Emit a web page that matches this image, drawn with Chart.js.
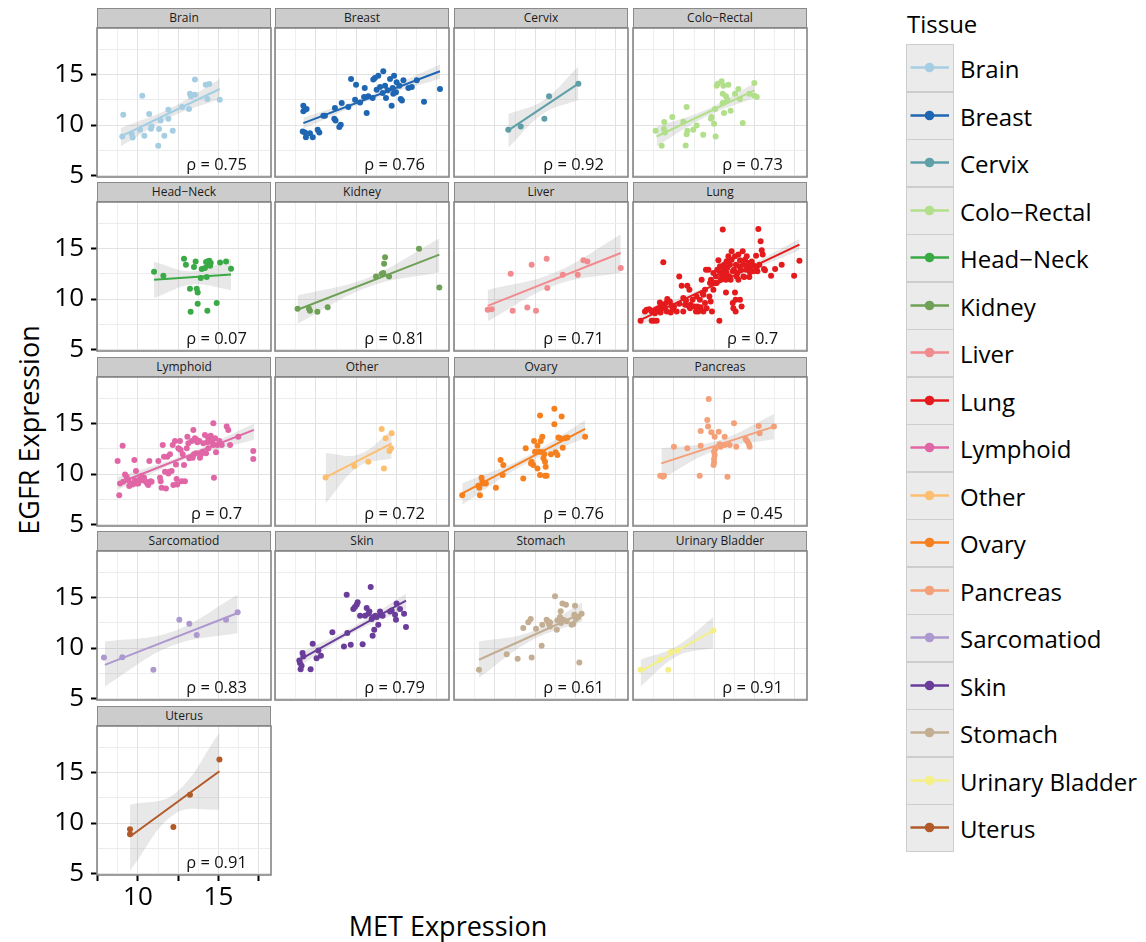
<!DOCTYPE html>
<html>
<head>
<meta charset="utf-8">
<title>EGFR vs MET expression by tissue</title>
<script src="https://cdn.jsdelivr.net/npm/chart.js@4.4.1/dist/chart.umd.min.js"></script>
<style>
  body { margin: 0; background: #fff; }
  #figure { position: relative; width: 1146px; height: 942px; overflow: hidden; font-family: "Open Sans", sans-serif; color: #000; }
  #figure canvas { position: absolute; }
  .strip { position: absolute; box-sizing: border-box; height: 20px; background: #cccccc; border: 1.5px solid #8a8a8a; font-size: 12px; line-height: 17px; text-align: center; color: #1a1a1a; white-space: nowrap; }
  .axis-title { position: absolute; font-size: 27px; white-space: nowrap; transform: translate(-50%, -50%); }
  .axis-title.vertical { transform: translate(-50%, -50%) rotate(-90deg); }
  .legend-title { position: absolute; left: 907px; top: 7px; font-size: 24px; }
  .key { position: absolute; left: 906px; width: 48px; height: 48px; box-sizing: border-box; background: #ebebeb; border: 1.5px solid #cdcdcd; }
  .key svg { position: absolute; left: 0; top: 0; }
  .key-label { position: absolute; left: 960px; font-size: 24px; line-height: 48px; white-space: nowrap; }
</style>
</head>
<body>
<div id="figure">
  <div class="axis-title vertical" style="left:28px; top:430px;">EGFR Expression</div>
  <div class="axis-title" style="left:448px; top:925px;">MET Expression</div>
  <div class="legend-title">Tissue</div>
</div>
<script>
const tissues = ['Brain', 'Breast', 'Cervix', 'Colo−Rectal', 'Head−Neck', 'Kidney', 'Liver', 'Lung', 'Lymphoid',
  'Other', 'Ovary', 'Pancreas', 'Sarcomatiod', 'Skin', 'Stomach', 'Urinary Bladder', 'Uterus'];
const tissueColors = ['#a6cee3', '#1f66b2', '#5e9fa8', '#b2df8a', '#3aaa47', '#6ea055', '#f28b8f', '#e41a1c', '#e066a6',
  '#fdbf6f', '#f7801e', '#f4a078', '#ad99cf', '#6a3d9a', '#c4ae93', '#f4ef86', '#b15928'];
const rhoValues = ['0.75', '0.76', '0.92', '0.73', '0.07', '0.81', '0.71', '0.7', '0.7', '0.72', '0.76', '0.45', '0.83', '0.79', '0.61', '0.91', '0.91'];

// [MET, EGFR] per cell line
const brainPts = [[9.09,11.02],[10.27,12.92],[9.03,8.87],[9.61,9.13],[9.67,8.77],[10.13,9.53],[10.4,8.94],[10.7,11.09],[10.85,9.86],[10.81,9.63],[11.26,7.94],[11.31,9.6],[11.41,10.46],[11.64,8.94],[11.89,11.52],[11.89,10.63],[12.16,9.43],[12.75,11.79],[13.17,11.59],[13.23,13.11],[13.29,12.85],[13.54,13.01],[13.54,14.51],[14.21,14.01],[14.43,14.08],[14.31,12.59],[15.08,12.52]];
const breastPts = [[9.22,11.92],[9.32,11.52],[9.42,11.59],[9.22,11.36],[9.18,9.37],[9.32,9.27],[9.38,8.8],[9.63,9.2],[9.8,8.8],[10.11,9.53],[10.21,9.27],[10.46,10.93],[10.56,10.93],[11.18,11.69],[11.14,10.63],[11.22,10.46],[11.45,9.8],[11.54,10.03],[11.6,12.19],[12.01,11.79],[12.18,14.57],[12.49,14.01],[12.43,12.52],[12.74,12.25],[12.99,12.78],[13.03,13.68],[13.15,11.19],[13.25,12.85],[13.52,12.68],[13.56,14.51],[13.66,14.67],[13.77,13.51],[13.87,14.9],[13.98,13.78],[14.18,15.34],[14.14,13.18],[14.29,13.91],[14.35,12.68],[14.45,13.45],[14.6,14.57],[14.7,11.92],[14.76,13.68],[14.8,13.11],[14.85,14.9],[14.97,13.25],[15.01,14.24],[15.18,13.91],[15.26,12.58],[15.34,12.45],[15.43,14.44],[15.74,13.68],[15.95,13.78],[16.26,14.44],[16.71,12.32],[17.7,13.58]];
const cervixPts = [[10.83,9.53],[11.6,9.86],[13.07,10.63],[13.36,12.85],[15.18,14.11]];
const coloRectalPts = [[8.86,9.43],[9.38,9.6],[9.44,9.27],[9.24,7.94],[9.4,10.3],[9.9,10.79],[10.58,10.33],[10.79,11.79],[10.73,7.97],[10.79,9.1],[10.83,9.43],[11.2,9.53],[11.41,9.96],[11.82,9.03],[12.34,10.79],[12.3,10.63],[12.49,10.13],[12.59,8.87],[12.65,13.91],[12.72,14.11],[12.96,14.34],[13.07,13.91],[13.38,14.01],[13.03,13.11],[13.23,12.85],[13.31,12.52],[13.11,11.19],[13.52,11.42],[13.03,12.19],[13.79,13.11],[14.0,13.58],[14.1,12.58],[14.27,10.2],[14.68,13.11],[14.99,14.17],[14.99,12.91],[15.14,12.78],[12.55,11.59]];
const headNeckPts = [[11.0,12.72],[11.58,12.32],[12.86,14.01],[12.98,13.41],[13.48,13.18],[13.58,13.74],[13.96,12.98],[14.16,13.08],[14.23,13.68],[14.31,13.74],[14.37,13.41],[14.43,13.81],[14.48,13.31],[14.52,13.58],[15.1,13.64],[15.47,13.74],[15.78,13.01],[13.23,11.02],[13.65,11.02],[13.71,10.66],[13.9,12.09],[14.27,12.19],[13.71,9.53],[14.89,9.6],[13.27,8.74],[14.31,8.84]];
const kidneyPts = [[8.86,9.03],[9.57,9.03],[9.63,8.84],[10.09,8.74],[10.73,9.2],[13.73,12.25],[14.08,12.48],[14.18,12.58],[14.23,13.51],[14.29,14.14],[14.54,12.25],[16.4,15.0],[17.66,11.16]];
const liverPts = [[9.55,8.94],[9.8,9.0],[10.98,12.52],[11.1,8.84],[12.01,9.17],[12.28,13.41],[12.55,8.84],[13.21,14.01],[13.25,11.09],[14.21,12.42],[15.14,12.42],[15.49,13.84],[15.74,13.74],[17.81,13.08]];
const lungPts = [[7.93,7.84],[8.62,7.84],[8.76,7.84],[8.93,7.84],[8.2,8.77],[8.31,8.94],[8.47,9.0],[8.62,8.77],[8.76,8.87],[8.89,9.0],[9.03,9.1],[9.17,9.27],[9.34,9.43],[9.44,9.1],[9.51,9.6],[9.59,10.0],[9.75,9.76],[9.86,9.33],[9.92,9.0],[10.0,9.27],[9.34,13.65],[10.33,12.25],[10.48,11.32],[10.58,8.77],[10.69,9.43],[10.75,9.86],[10.83,11.32],[10.96,10.93],[11.0,9.1],[11.04,9.43],[11.16,9.93],[11.27,9.27],[11.37,8.77],[11.45,9.27],[11.51,8.77],[11.61,9.93],[11.66,9.2],[11.72,11.92],[11.78,10.59],[11.83,8.77],[11.93,9.6],[11.99,12.92],[12.03,9.1],[12.14,12.92],[12.2,10.26],[12.28,9.76],[12.3,11.92],[12.36,8.77],[12.45,10.93],[12.55,11.59],[12.61,12.25],[12.65,11.59],[12.69,12.92],[12.76,13.85],[12.82,7.84],[12.86,12.65],[12.9,11.92],[12.96,12.42],[13.03,16.9],[13.07,12.92],[13.11,13.41],[13.17,12.25],[13.23,10.66],[13.27,12.58],[13.31,13.08],[13.38,14.24],[13.44,12.25],[13.48,13.41],[13.52,11.92],[13.58,14.74],[13.65,12.75],[13.69,9.1],[13.73,12.92],[13.79,14.24],[13.83,8.77],[13.85,13.41],[13.89,12.25],[13.93,12.58],[14.0,14.41],[14.06,13.25],[14.1,13.85],[14.14,12.92],[14.2,9.27],[14.27,14.74],[14.31,13.41],[14.37,12.19],[14.41,13.91],[14.48,12.92],[14.52,14.24],[14.58,13.18],[14.64,13.58],[14.68,12.19],[14.72,12.65],[14.83,13.74],[14.97,13.31],[15.1,14.31],[15.14,13.18],[15.18,12.75],[15.24,16.96],[15.3,13.41],[15.38,15.73],[15.45,14.84],[15.51,14.41],[15.59,12.98],[15.65,12.85],[16.03,12.32],[16.28,12.98],[16.69,13.41],[17.46,12.32],[17.79,13.81],[13.83,9.93],[13.65,9.6],[14.1,9.93],[11.83,10.43],[11.41,10.26],[10.58,10.1],[10.33,9.53],[10.17,8.77],[9.8,8.67],[9.55,8.77],[9.17,8.67],[8.97,8.87],[8.82,8.6],[9.13,9.66],[10.89,9.33],[13.79,10.66],[13.23,11.92],[12.86,13.25],[12.45,12.58],[12.24,11.59],[11.93,10.93],[13.27,13.75],[13.58,13.91],[14.0,11.92],[14.31,12.25],[14.72,13.18],[14.93,12.75]];
const lymphoidPts = [[8.74,11.29],[8.84,7.91],[8.89,9.07],[9.05,12.82],[9.09,9.24],[9.2,9.97],[9.3,9.73],[9.4,9.4],[9.46,8.81],[9.55,9.07],[9.67,8.97],[9.78,11.39],[9.82,9.4],[9.88,10.3],[9.92,9.07],[10.02,9.07],[10.13,9.5],[10.23,9.83],[10.29,9.4],[10.38,9.64],[10.5,9.24],[10.58,9.07],[10.64,8.91],[10.71,11.29],[10.79,9.3],[10.85,9.24],[11.27,11.29],[11.37,9.64],[11.41,9.3],[11.47,8.64],[11.54,12.89],[11.62,11.72],[11.68,10.23],[11.74,8.57],[11.83,11.72],[11.89,10.07],[11.95,10.23],[11.99,11.96],[12.09,10.3],[12.16,12.89],[12.2,8.91],[12.3,13.28],[12.36,10.96],[12.4,9.5],[12.44,8.97],[12.51,12.55],[12.57,12.49],[12.61,13.28],[12.65,12.39],[12.72,9.3],[12.78,11.96],[12.86,10.9],[12.92,9.3],[13.03,12.55],[13.07,13.71],[13.13,13.05],[13.19,11.56],[13.34,13.28],[13.4,11.63],[13.44,14.38],[13.48,11.96],[13.54,13.55],[13.61,12.06],[13.65,13.38],[13.69,13.15],[13.81,13.28],[13.85,11.63],[13.92,11.96],[14.02,12.22],[14.16,13.88],[14.23,12.06],[14.31,13.15],[14.37,13.55],[14.43,13.71],[14.52,13.81],[14.58,13.28],[14.64,13.05],[14.68,15.04],[14.72,9.64],[14.79,13.55],[14.85,12.16],[14.93,12.89],[15.06,13.28],[15.2,12.89],[15.51,14.71],[15.61,14.38],[15.72,12.89],[16.23,13.71],[17.16,12.29],[17.16,11.49],[14.68,12.89],[14.37,12.55],[14.06,13.05]];
const otherPts = [[10.6,9.67],[12.38,10.8],[13.25,11.23],[14.08,14.48],[14.33,13.55],[14.22,10.56],[14.7,14.05],[14.56,12.29],[14.66,12.55]];
const ovaryPts = [[7.97,7.91],[8.97,8.84],[9.03,8.64],[9.07,7.91],[9.17,9.64],[9.22,9.24],[9.28,9.07],[9.44,9.07],[10.06,8.64],[10.35,11.39],[10.52,10.9],[10.48,9.9],[11.76,9.57],[11.91,12.55],[12.24,11.06],[12.38,10.9],[12.43,13.28],[12.49,12.22],[12.64,12.82],[12.64,10.56],[12.76,12.22],[12.8,15.8],[12.8,9.9],[12.84,13.28],[12.94,13.71],[13.01,11.56],[13.07,11.96],[13.11,11.23],[13.15,10.73],[13.11,9.83],[13.21,9.83],[13.48,11.96],[13.69,16.47],[13.69,14.94],[13.77,12.16],[13.88,11.89],[13.94,13.62],[14.04,13.55],[14.14,15.7],[14.21,12.62],[14.35,13.55],[14.5,13.62],[15.6,13.71],[12.28,11.23],[12.96,12.16]];
const pancreasPts = [[9.15,9.83],[9.32,9.73],[9.38,9.83],[10.0,12.72],[10.83,12.55],[11.6,9.83],[11.66,12.82],[12.07,15.37],[12.12,14.71],[12.16,17.46],[11.66,14.28],[12.32,14.15],[12.53,13.71],[12.49,12.22],[12.53,11.89],[12.49,11.49],[12.49,11.16],[12.46,10.9],[12.78,14.21],[12.84,12.95],[12.9,12.72],[13.15,13.71],[13.15,12.89],[13.32,9.73],[13.46,12.89],[13.73,15.04],[13.87,12.72],[14.45,13.48],[14.56,13.22],[14.66,12.95],[14.7,12.72],[15.26,14.78],[15.32,14.05],[16.21,14.71],[12.57,12.49]];
const sarcomatiodPts = [[7.89,9.07],[9.03,9.1],[10.96,7.84],[12.57,12.82],[13.19,12.42],[13.65,11.29],[15.47,12.82],[16.19,13.55]];
const skinPts = [[8.97,8.77],[9.01,8.51],[9.05,7.91],[9.11,8.24],[9.17,9.5],[9.22,9.17],[9.67,7.91],[9.8,10.43],[10.04,9.0],[10.15,9.76],[10.31,9.23],[11.02,11.56],[11.74,10.16],[11.91,15.3],[11.95,11.49],[12.16,10.33],[12.32,13.88],[12.42,14.08],[12.53,14.31],[12.59,14.54],[12.9,10.39],[13.05,13.21],[13.15,13.98],[13.26,13.41],[13.32,13.64],[13.4,16.07],[13.46,12.88],[13.52,11.22],[13.56,13.08],[13.62,11.82],[13.69,13.21],[13.77,13.08],[13.87,12.32],[13.98,13.64],[14.02,13.31],[14.14,13.21],[14.6,13.64],[14.7,13.74],[14.91,13.31],[14.97,12.82],[15.01,14.41],[15.47,13.41],[15.59,12.08],[15.22,13.88],[12.74,13.21]];
const stomachPts = [[9.01,7.84],[10.73,9.4],[11.41,8.94],[12.28,9.07],[12.9,10.23],[11.76,11.99],[12.07,12.55],[12.22,12.88],[12.55,11.92],[12.94,12.32],[13.21,12.82],[13.28,12.65],[13.36,12.42],[13.42,12.15],[13.73,15.14],[13.84,11.82],[13.88,12.75],[14.04,13.08],[14.08,13.65],[14.1,12.48],[14.19,14.41],[14.25,12.82],[14.41,14.31],[14.45,12.65],[14.76,12.32],[14.87,12.38],[14.93,13.31],[14.97,14.21],[15.03,12.88],[15.18,13.08],[15.24,8.57],[15.38,13.41],[13.42,12.55]];
const bladderPts = [[7.93,7.84],[9.13,8.84],[9.65,7.84],[9.82,9.6],[10.21,9.76],[12.45,11.75]];
const uterusPts = [[9.51,9.4],[9.51,8.9],[12.2,9.6],[13.23,12.82],[15.06,16.3]];

const points = [brainPts, breastPts, cervixPts, coloRectalPts, headNeckPts, kidneyPts, liverPts, lungPts, lymphoidPts,
  otherPts, ovaryPts, pancreasPts, sarcomatiodPts, skinPts, stomachPts, bladderPts, uterusPts];

// linear fit end points and confidence band (start, middle, end)
const fitFrom = [[8.93,8.87],[9.22,10.2],[10.83,9.47],[8.92,8.87],[11.0,11.92],[8.86,8.94],[9.55,9.33],[7.93,7.94],[8.74,9.07],
  [10.6,9.67],[7.97,8.08],[9.22,11.06],[7.95,8.34],[8.97,8.84],[9.01,8.84],[7.93,7.68],[9.51,8.67]];
const fitTo = [[15.08,13.58],[17.7,15.34],[15.18,14.11],[14.99,13.45],[15.78,12.45],[17.66,14.41],[17.81,14.57],[17.79,15.4],[17.2,14.38],
  [14.7,13.05],[15.6,14.48],[16.21,14.71],[16.19,13.48],[15.59,14.71],[15.43,13.48],[12.45,11.75],[15.06,15.14]];
const bandLow = [[7.87,10.77,12.58],[9.65,12.52,14.6],[7.75,11.15,12.5],[7.9,10.8,12.7],[10.1,11.45,10.9],[7.55,11.2,12.65],
  [7.8,11.35,12.6],[7.4,11.47,14.85],[8.45,11.5,13.4],[7.1,10.75,11.55],[6.95,10.9,13.6],[9.55,12.45,13.45],
  [6.2,10.2,11.5],[8.2,11.5,13.85],[7.05,10.7,12.65],[6.2,9.2,10.0],[5.3,10.9,11.35]];
const bandHigh = [[9.7,11.67,14.58],[10.75,13.02,16.0],[11.1,12.45,15.8],[9.85,11.5,14.15],[13.7,12.75,14.0],[10.35,12.15,16.0],
  [10.9,12.6,16.4],[8.5,11.87,15.95],[9.7,11.95,15.0],[12.1,11.95,14.3],[9.1,11.6,15.35],[12.55,13.3,15.95],
  [10.65,11.6,15.3],[9.5,12.1,15.4],[10.65,11.6,14.55],[8.85,10.2,13.1],[11.8,12.9,18.95]];

const xTicks = [7.5, 8.75, 10, 11.25, 12.5, 13.75, 15, 16.25, 17.5];
const yTicks = [5, 7.5, 10, 12.5, 15, 17.5];
const xLabels = [10, 15];
const yLabels = [5, 10, 15];

const FONT = '"Open Sans", sans-serif';
const colLeft = [97, 275, 454, 633];
const rowTop = [28, 202, 377, 551, 726];
const panelW = 174, panelH = 149;
// room around the plot area; top/bottom must exceed half a tick label so the
// layout doesn't push the plot area in
const padL = 80, padT = 28, padR = 6, padB = 50;
const rhoAt = [14.88, 6.0];

const fig = document.getElementById('figure');

// correlation text + grey frame around each facet
const panelFrame = {
  id: 'panelFrame',
  afterDatasetsDraw(chart, args, opts) {
    const { ctx, chartArea: a, scales } = chart;
    ctx.save();
    ctx.font = '16.5px ' + FONT;
    ctx.fillStyle = '#111';
    ctx.textAlign = 'center';
    ctx.textBaseline = 'middle';
    ctx.fillText('ρ = ' + opts.rho, scales.x.getPixelForValue(rhoAt[0]), scales.y.getPixelForValue(rhoAt[1]));
    ctx.strokeStyle = '#858585';
    ctx.lineWidth = 1.6;
    ctx.strokeRect(a.left, a.top, a.width, a.height);
    ctx.restore();
  }
};

tissues.forEach((name, i) => {
  const col = i % 4, row = Math.floor(i / 4);
  const leftAxis = col === 0;
  const bottomAxis = i === tissues.length - 1;
  const color = tissueColors[i];

  const strip = document.createElement('div');
  strip.className = 'strip';
  strip.style.left = colLeft[col] + 'px';
  strip.style.top = (rowTop[row] - 20) + 'px';
  strip.style.width = panelW + 'px';
  strip.textContent = name;
  fig.appendChild(strip);

  const canvas = document.createElement('canvas');
  canvas.width = padL + panelW + padR;
  canvas.height = padT + panelH + padB;
  canvas.style.left = (colLeft[col] - padL) + 'px';
  canvas.style.top = (rowTop[row] - padT) + 'px';
  fig.appendChild(canvas);

  const [x0, y0] = fitFrom[i];
  const [x1, y1] = fitTo[i];
  const bandX = [x0, (x0 + x1) / 2, x1];

  new Chart(canvas, {
    type: 'line',
    data: {
      datasets: [
        {
          data: bandX.map((x, k) => ({ x, y: bandLow[i][k] })),
          borderColor: 'transparent', borderWidth: 0, pointRadius: 0, fill: false, tension: 0.4, order: 3
        },
        {
          data: bandX.map((x, k) => ({ x, y: bandHigh[i][k] })),
          borderColor: 'transparent', borderWidth: 0, pointRadius: 0, tension: 0.4, order: 3,
          fill: '-1', backgroundColor: 'rgba(150,150,150,0.22)'
        },
        {
          data: points[i].map(p => ({ x: p[0], y: p[1] })),
          showLine: false, pointRadius: 3, pointBorderWidth: 0,
          pointBackgroundColor: color, pointBorderColor: color, order: 2
        },
        {
          data: [{ x: x0, y: y0 }, { x: x1, y: y1 }],
          borderColor: color, borderWidth: 2, pointRadius: 0, fill: false, order: 1
        }
      ]
    },
    options: {
      responsive: false,
      animation: false,
      events: [],
      layout: {
        autoPadding: false,
        padding: { left: leftAxis ? 0 : padL, top: padT, right: padR, bottom: bottomAxis ? 0 : padB }
      },
      plugins: {
        legend: { display: false },
        tooltip: { enabled: false },
        panelFrame: { rho: rhoValues[i] }
      },
      scales: {
        x: {
          type: 'linear', min: 7.46, max: 18.26,
          afterBuildTicks: s => { s.ticks = xTicks.map(v => ({ value: v })); },
          afterFit: s => { s.height = bottomAxis ? padB : 0; },
          border: { display: false },
          grid: {
            color: c => (c.tick && c.tick.value % 2.5 === 0) ? '#e2e2e2' : '#efefef',
            lineWidth: 1,
            drawTicks: bottomAxis, tickLength: 6, tickWidth: 2,
            tickColor: c => (c.tick && c.tick.value % 2.5 === 0) ? '#000' : 'rgba(0,0,0,0)'
          },
          ticks: {
            display: bottomAxis, autoSkip: false, maxRotation: 0, padding: 1, color: '#000',
            font: { family: FONT, size: 26 },
            callback: v => xLabels.includes(v) ? String(v) : ''
          }
        },
        y: {
          type: 'linear', min: 4.85, max: 19.63,
          afterBuildTicks: s => { s.ticks = yTicks.map(v => ({ value: v })); },
          afterFit: s => { s.width = leftAxis ? padL : 0; },
          border: { display: false },
          grid: {
            color: c => (c.tick && c.tick.value % 5 === 0) ? '#e2e2e2' : '#ececec',
            lineWidth: 1,
            drawTicks: leftAxis, tickLength: 6, tickWidth: 2,
            tickColor: c => (c.tick && yLabels.includes(c.tick.value)) ? '#000' : 'rgba(0,0,0,0)'
          },
          ticks: {
            display: leftAxis, autoSkip: false, padding: 7, color: '#000',
            font: { family: FONT, size: 26 },
            callback: v => yLabels.includes(v) ? String(v) : ''
          }
        }
      }
    },
    plugins: [panelFrame]
  });
});

// legend keys
tissues.forEach((name, i) => {
  const top = 44 + i * 47.5;
  const key = document.createElement('div');
  key.className = 'key';
  key.style.top = top + 'px';
  key.innerHTML = '<svg width="45" height="45"><line x1="3.5" y1="22.5" x2="42" y2="22.5" stroke="' + tissueColors[i] +
    '" stroke-width="2.4"/><circle cx="22.5" cy="22.5" r="4.8" fill="' + tissueColors[i] + '"/></svg>';
  fig.appendChild(key);
  const label = document.createElement('div');
  label.className = 'key-label';
  label.style.top = (top + 1) + 'px';
  label.textContent = name;
  fig.appendChild(label);
});
</script>
</body>
</html>
